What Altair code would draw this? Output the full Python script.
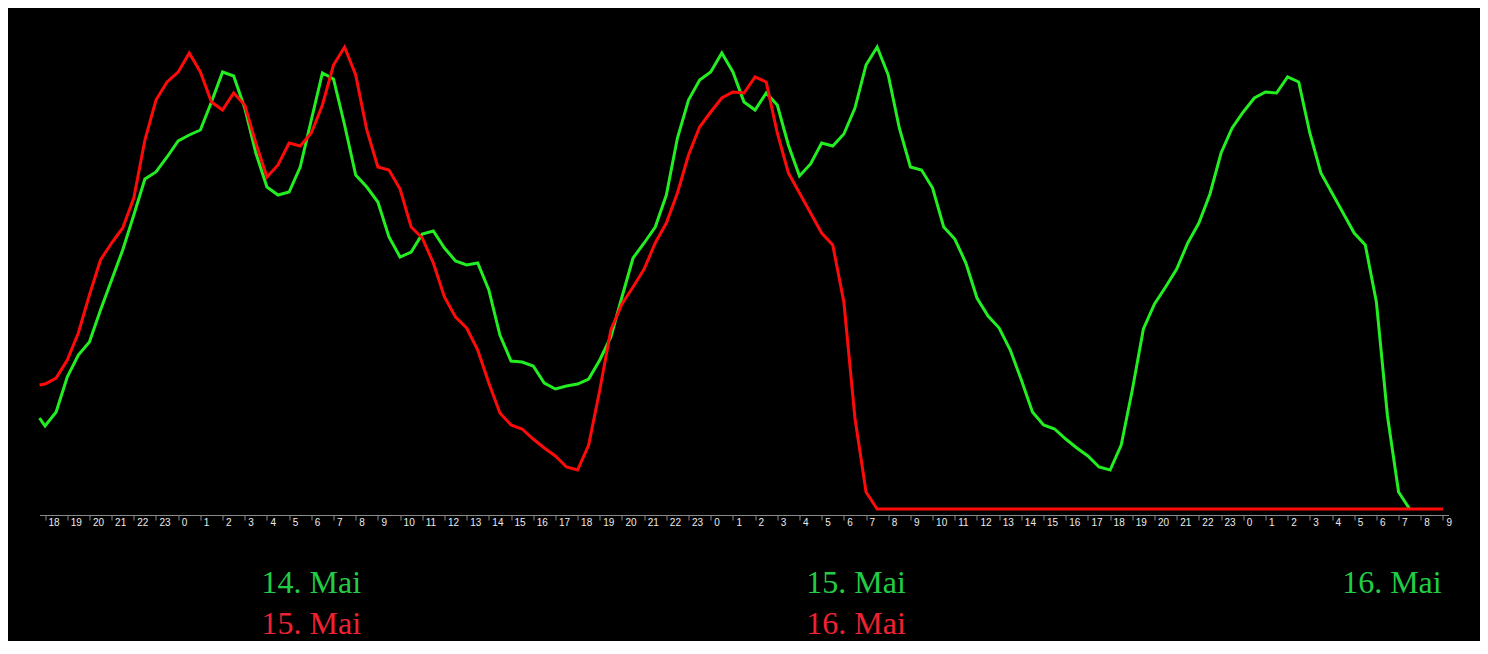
import altair as alt
import pandas as pd

# ---------------- data (half-hour readings; plot starts at 13 May 17:45) ----------------
START = pd.Timestamp("2024-05-13 18:00")
stamps = (
    [pd.Timestamp("2024-05-13 17:45")]
    + list(pd.date_range("2024-05-13 18:00", "2024-05-16 09:00", freq="30min"))
    + [pd.Timestamp("2024-05-16 09:15")]
)
hours = [(s - START) / pd.Timedelta(hours=1) for s in stamps]

# green series: 13 May 17:45 -> 16 May 07:30
green_values = [
    91,
    83, 97, 132, 154, 167, 199, 229, 259, 294, 330, 337, 352,
    368, 374, 379, 407, 437, 433, 401, 356, 322, 314, 317, 342,
    389, 436, 430, 384, 334, 322, 307, 272, 252, 257, 275, 278,
    261, 248, 244, 246, 219, 174, 148, 147, 143, 126, 120, 123,
    125, 130, 149, 172, 212, 251, 266, 282, 314, 371, 409, 429,
    437, 456, 437, 407, 399, 416, 404, 364, 333, 345, 366, 363,
    375, 401, 444, 462, 434, 381, 342, 339, 321, 282, 270, 246,
    211, 193, 181, 159, 129, 97, 84, 80, 70, 61, 53, 42,
    39, 64, 119, 180, 205, 222, 240, 266, 286, 315, 356, 381,
    397, 411, 417, 416, 432, 427, 376, 336, 316, 296, 276, 264,
    207, 93, 17, 0,
]

# red series: 13 May 17:45 -> 16 May 09:15
red_values = [
    124,
    125, 131, 149, 176, 214, 249, 266, 281, 311, 369, 409, 427,
    437, 456, 437, 407, 399, 416, 404, 366, 332, 344, 366, 363,
    376, 404, 444, 462, 434, 379, 342, 339, 320, 282, 271, 246,
    212, 192, 181, 159, 126, 96, 84, 80, 70, 61, 53, 42,
    39, 64, 119, 179, 205, 222, 240, 266, 286, 316, 354, 382,
    397, 411, 417, 416, 432, 427, 376, 336, 316, 296, 276, 264,
    207, 91, 17, 0, 0, 0, 0, 0, 0, 0, 0, 0,
    0, 0, 0, 0, 0, 0, 0, 0, 0, 0, 0, 0,
    0, 0, 0, 0, 0, 0, 0, 0, 0, 0, 0, 0,
    0, 0, 0, 0, 0, 0, 0, 0, 0, 0, 0, 0,
    0, 0, 0, 0, 0, 0, 0,
]

green_labels = ["14. Mai", "15. Mai", "16. Mai"]
green_label_hours = [12.0, 36.55, 60.7]
red_labels = ["15. Mai", "16. Mai"]
red_label_hours = [12.0, 36.55]

tick_hours = list(range(0, 64))

# ---------------- styling ----------------
GREEN = "#22ee22"
RED = "#ff0a0a"
GREEN_TXT = "#22cc44"
RED_TXT = "#ee2233"

df_green = pd.DataFrame({"h": hours[: len(green_values)], "v": green_values})
df_red = pd.DataFrame({"h": hours[: len(red_values)], "v": red_values})
df_glab = pd.DataFrame({"h": green_label_hours, "label": green_labels})
df_rlab = pd.DataFrame({"h": red_label_hours, "label": red_labels})

x_enc = alt.X(
    "h:Q",
    scale=alt.Scale(domain=[-0.25, 63.25], nice=False, zero=False),
    axis=alt.Axis(
        values=tick_hours,
        labelExpr="(datum.value + 18) % 24",
        title=None,
        grid=False,
        domainColor="#8a8a8a",
        domainWidth=1,
        tickColor="#8a8a8a",
        tickSize=5,
        tickWidth=1,
        labelColor="#ececec",
        labelFont="Liberation Sans",
        labelFontSize=10,
        labelAlign="left",
        labelBaseline="top",
        labelPadding=-3,
        labelOffset=3,
        labelOverlap=False,
        labelFlush=False,
        offset=6,
    ),
)
y_enc = alt.Y("v:Q", scale=alt.Scale(domain=[0, 469], nice=False), axis=None)

green_line = alt.Chart(df_green).mark_line(color=GREEN, strokeWidth=3).encode(x=x_enc, y=y_enc)
red_line = alt.Chart(df_red).mark_line(color=RED, strokeWidth=3).encode(x=x_enc, y=y_enc)

green_text = alt.Chart(df_glab).mark_text(
    font="Liberation Serif", fontSize=32, color=GREEN_TXT, align="center", baseline="alphabetic"
).encode(x=x_enc, y=alt.value(553), text="label:N")
red_text = alt.Chart(df_rlab).mark_text(
    font="Liberation Serif", fontSize=32, color=RED_TXT, align="center", baseline="alphabetic"
).encode(x=x_enc, y=alt.value(594), text="label:N")

chart = (
    alt.layer(green_line, red_line, green_text, red_text)
    .properties(
        width=1409,
        height=469,
        autosize="none",
        padding={"left": 31.5, "top": 32, "right": 31, "bottom": 132},
    )
    .configure(background="black")
    .configure_view(stroke=None)
)

chart.save("out.html", embed_options={"renderer": "svg", "actions": False})
